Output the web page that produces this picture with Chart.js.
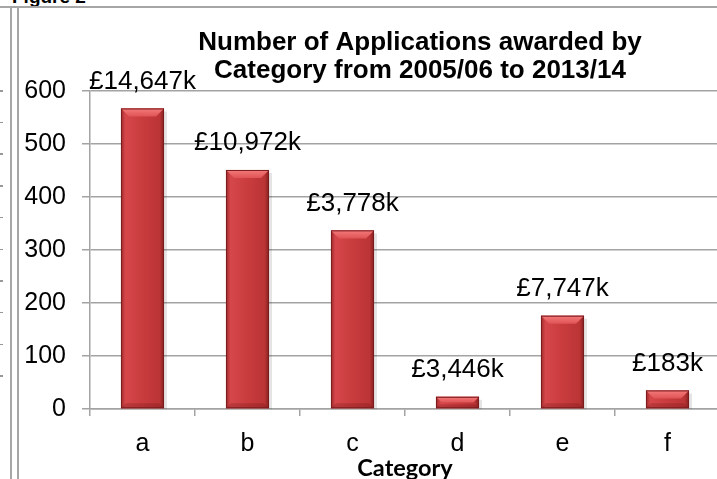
<!DOCTYPE html>
<html>
<head>
<meta charset="utf-8">
<script src="https://cdn.jsdelivr.net/npm/chart.js@4.4.1/dist/chart.umd.min.js"></script>
<style>
  body { margin: 0; overflow: hidden; background: #fff; }
  #wrap { position: relative; width: 717px; height: 479px; overflow: hidden; }
  .fig { position: absolute; left: 12px; top: -14px; font: bold 19px "Liberation Sans", Arial, sans-serif; color: #000; }
  .hl { position: absolute; left: 0; top: 6px; width: 717px; height: 2px; background: #a6a6a6; }
  .vl { position: absolute; top: 7px; width: 2px; height: 472px; background: #a6a6a6; }
  .ticks { position: absolute; left: 0; top: 90px; width: 3px; height: 300px;
           background: repeating-linear-gradient(#fff 0 0px, #999 0px 1.5px, #fff 1.5px 31.7px); }
  canvas { position: absolute; left: 0; top: 0; }
</style>
</head>
<body>
<div id="wrap">
  <div class="fig">Figure 2</div>
  <div class="hl"></div>
  <div class="vl" style="left:10px"></div>
  <div class="vl" style="left:17px"></div>
  <div class="ticks"></div>
  <canvas id="chart" width="725" height="479" style="width:725px;height:479px"></canvas>
</div>
<script>
document.addEventListener('DOMContentLoaded', function() {
    // values
    const categories = ['a', 'b', 'c', 'd', 'e', 'f'];
    const applications = [567, 451, 337, 23, 176, 35];
    const awardLabels = ['£14,647k', '£10,972k', '£3,778k', '£3,446k', '£7,747k', '£183k'];
    const yTicks = [0, 100, 200, 300, 400, 500, 600];
    const titleLines = ['Number of Applications awarded by', 'Category from 2005/06 to 2013/14'];

    const grey = '#a3a3a3';
    const arial = '"Liberation Sans", Arial, sans-serif';

    // chart title, drawn off-centre like the original
    const titlePlugin = {
        id: 'figTitle',
        afterDraw(chart) {
            const ctx = chart.ctx;
            ctx.save();
            ctx.font = 'bold 26px ' + arial;
            ctx.fillStyle = '#000';
            ctx.textAlign = 'center';
            ctx.textBaseline = 'middle';
            titleLines.forEach((t, i) => ctx.fillText(t, 420, 43 + i * 28));
            ctx.restore();
        }
    };

    // bevelled 3D look on each bar + value labels
    const bevelPlugin = {
        id: 'bevel',
        afterDatasetsDraw(chart) {
            const ctx = chart.ctx;
            const meta = chart.getDatasetMeta(0);
            meta.data.forEach((bar, i) => {
                const p = bar.getProps(['x', 'y', 'base', 'width'], true);
                const x0 = p.x - p.width / 2, x1 = p.x + p.width / 2;
                const top = p.y, base = p.base, h = base - top;
                ctx.save();
                // soft shadow
                ctx.fillStyle = 'rgba(0,0,0,0.10)';
                ctx.fillRect(x1, top + 3, 3, h - 2);
                const g = ctx.createLinearGradient(x0, 0, x1, 0);
                g.addColorStop(0, '#9c282a');
                g.addColorStop(0.1, '#d5474a');
                g.addColorStop(0.5, '#c93c3e');
                g.addColorStop(0.9, '#bb3436');
                g.addColorStop(1, '#84201f');
                ctx.fillStyle = g;
                ctx.fillRect(x0, top, p.width, h);
                const b = Math.min(8, h / 2);
                const tg = ctx.createLinearGradient(0, top, 0, top + b);
                tg.addColorStop(0, '#f47a7a');
                tg.addColorStop(1, '#e05456');
                ctx.fillStyle = tg;
                ctx.beginPath();
                ctx.moveTo(x0, top); ctx.lineTo(x1, top);
                ctx.lineTo(x1 - b, top + b); ctx.lineTo(x0 + b, top + b);
                ctx.closePath(); ctx.fill();
                const bb = Math.min(5, h / 3);
                ctx.fillStyle = 'rgba(90,10,10,0.22)';
                ctx.beginPath();
                ctx.moveTo(x0, base); ctx.lineTo(x1, base);
                ctx.lineTo(x1 - bb, base - bb); ctx.lineTo(x0 + bb, base - bb);
                ctx.closePath(); ctx.fill();
                ctx.strokeStyle = '#7a1d1f';
                ctx.lineWidth = 1;
                ctx.strokeRect(x0 + 0.5, top + 0.5, p.width - 1, h - 1);
                // value label
                ctx.font = '26px ' + arial;
                ctx.fillStyle = '#000';
                ctx.textAlign = 'center';
                ctx.textBaseline = 'middle';
                ctx.fillText(awardLabels[i], p.x, top - 27);
                ctx.restore();
            });
        }
    };

    const ctx = document.getElementById('chart').getContext('2d');
    new Chart(ctx, {
        type: 'bar',
        data: {
            labels: categories,
            datasets: [{
                label: 'Applications',
                data: applications,
                backgroundColor: '#c93c3e',
                borderWidth: 0,
                categoryPercentage: 1,
                barPercentage: 0.41
            }]
        },
        options: {
            responsive: false,
            animation: false,
            devicePixelRatio: 1,
            layout: { padding: { top: 91, right: 5, left: 0, bottom: 0 } },
            plugins: {
                legend: { display: false },
                tooltip: { enabled: false },
                title: { display: false }
            },
            scales: {
                y: {
                    min: 0,
                    max: 600,
                    afterFit: s => { s.width = 90; },
                    afterBuildTicks: s => { s.ticks = yTicks.map(v => ({ value: v })); },
                    ticks: { padding: 16, color: '#000', font: { family: arial, size: 25 } },
                    grid: { color: grey, lineWidth: 1.5, tickLength: 8 },
                    border: { color: grey, width: 1.5 }
                },
                x: {
                    afterFit: s => { s.height = 70; },
                    ticks: { padding: 13, color: '#000', font: { family: arial, size: 25 } },
                    grid: { offset: true, drawOnChartArea: false, tickLength: 7, color: grey, lineWidth: 1.5 },
                    border: { color: grey, width: 1.5 },
                    title: {
                        display: true,
                        text: 'Category',
                        color: '#000',
                        padding: 0,
                        font: { family: 'Lato, "Open Sans", sans-serif', weight: 'bold', size: 23.5, lineHeight: 0.9 }
                    }
                }
            }
        },
        plugins: [titlePlugin, bevelPlugin]
    });
});
</script>
</body>
</html>
